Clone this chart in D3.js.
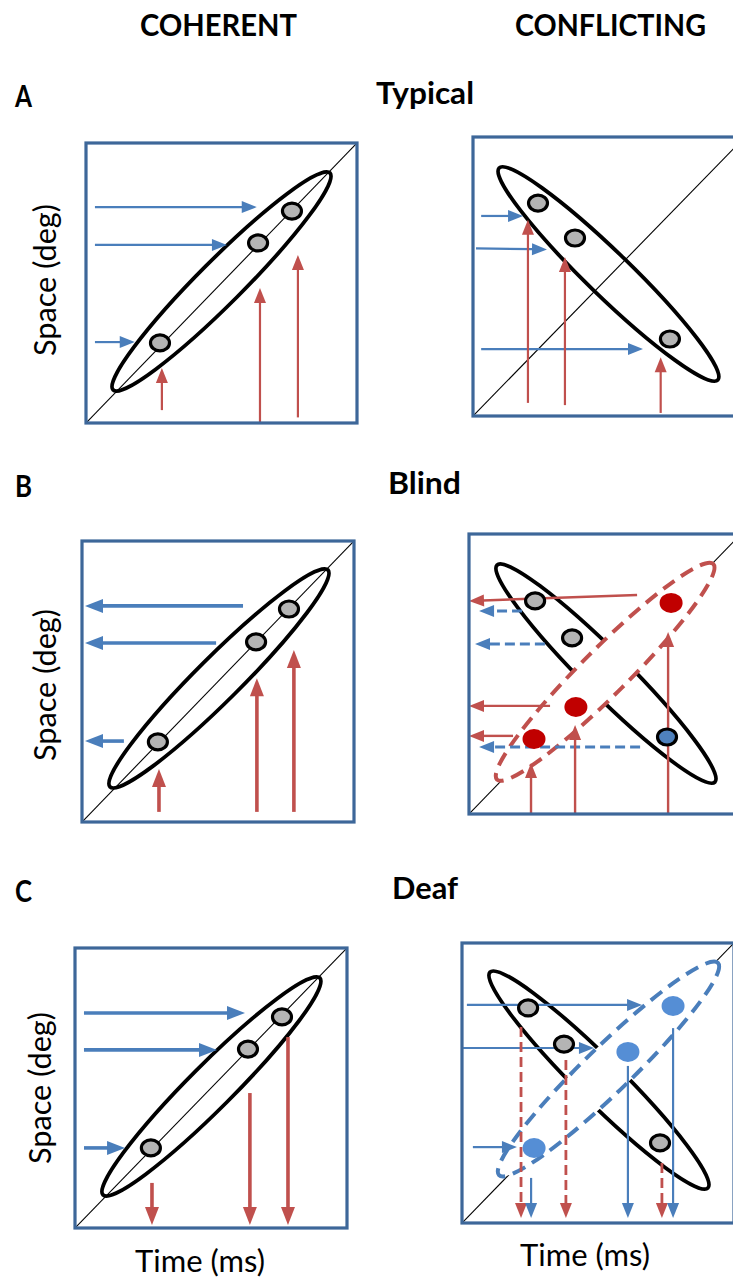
<!DOCTYPE html>
<html><head><meta charset="utf-8">
<script src="https://cdn.jsdelivr.net/npm/d3@7"></script>
<style>body{margin:0;background:#fff}svg{display:block}</style>
</head><body><svg id="c" width="733" height="1280"></svg>
<script>
// ---------- DATA (unit coordinates: t = time 0..1, s = space 0..1) ----------
const panelIds = ["A1", "A2", "B1", "B2", "C1", "C2"];

const columnTitles = ["COHERENT", "CONFLICTING"];
const rowLetters = ["A", "B", "C"];
const rowNames = ["Typical", "Blind", "Deaf"];
const axisLabels = { y: "Space (deg)", x: "Time (ms)" };

// ellipses: two ends of the major axis + half-width (unit coords)
const ellipses = [
  { p: "A1", kind: "black", t0: 0.100, s0: 0.118, t1: 0.900, s1: 0.893, w: 0.081 },
  { p: "A2", kind: "black", t0: 0.096, s0: 0.889, t1: 0.900, s1: 0.129, w: 0.081 },
  { p: "B1", kind: "black", t0: 0.103, s0: 0.125, t1: 0.904, s1: 0.897, w: 0.081 },
  { p: "B2", kind: "black", t0: 0.103, s0: 0.889, t1: 0.904, s1: 0.114, w: 0.081 },
  { p: "B2", kind: "red",   t0: 0.103, s0: 0.123, t1: 0.898, s1: 0.893, w: 0.085 },
  { p: "C1", kind: "black", t0: 0.103, s0: 0.118, t1: 0.900, s1: 0.893, w: 0.081 },
  { p: "C2", kind: "black", t0: 0.103, s0: 0.896, t1: 0.904, s1: 0.125, w: 0.081 },
  { p: "C2", kind: "blue",  t0: 0.136, s0: 0.171, t1: 0.941, s1: 0.929, w: 0.085 }
];

// dots
const dots = [
  { p: "A1", kind: "gray", t: 0.273, s: 0.286 }, { p: "A1", kind: "gray", t: 0.635, s: 0.643 }, { p: "A1", kind: "gray", t: 0.760, s: 0.757 },
  { p: "A2", kind: "gray", t: 0.239, s: 0.763 }, { p: "A2", kind: "gray", t: 0.375, s: 0.638 }, { p: "A2", kind: "gray", t: 0.724, s: 0.276 },
  { p: "B1", kind: "gray", t: 0.279, s: 0.285 }, { p: "B1", kind: "gray", t: 0.640, s: 0.641 }, { p: "B1", kind: "gray", t: 0.761, s: 0.758 },
  { p: "B2", kind: "gray", t: 0.243, s: 0.761 }, { p: "B2", kind: "gray", t: 0.379, s: 0.629 }, { p: "B2", kind: "blueRing", t: 0.728, s: 0.275 },
  { p: "B2", kind: "red", t: 0.743, s: 0.754 }, { p: "B2", kind: "red", t: 0.393, s: 0.382 }, { p: "B2", kind: "red", t: 0.239, s: 0.268 },
  { p: "C1", kind: "gray", t: 0.279, s: 0.286 }, { p: "C1", kind: "gray", t: 0.636, s: 0.639 }, { p: "C1", kind: "gray", t: 0.761, s: 0.754 },
  { p: "C2", kind: "gray", t: 0.243, s: 0.768 }, { p: "C2", kind: "gray", t: 0.375, s: 0.639 }, { p: "C2", kind: "gray", t: 0.728, s: 0.286 },
  { p: "C2", kind: "blue", t: 0.776, s: 0.775 }, { p: "C2", kind: "blue", t: 0.610, s: 0.611 }, { p: "C2", kind: "blue", t: 0.265, s: 0.268 }
];

// arrows: from (t0,s0) to tip (t1,s1); kind = colour series, dashed = weak signal
const arrows = [
  // A1
  { p: "A1", kind: "blue", dashed: false, t0: 0.033, s0: 0.771, t1: 0.630, s1: 0.771 },
  { p: "A1", kind: "blue", dashed: false, t0: 0.033, s0: 0.636, t1: 0.520, s1: 0.636 },
  { p: "A1", kind: "blue", dashed: false, t0: 0.033, s0: 0.289, t1: 0.180, s1: 0.289 },
  { p: "A1", kind: "red",  dashed: false, t0: 0.280, s0: 0.046, t1: 0.280, s1: 0.196 },
  { p: "A1", kind: "red",  dashed: false, t0: 0.642, s0: 0.000, t1: 0.642, s1: 0.482 },
  { p: "A1", kind: "red",  dashed: false, t0: 0.782, s0: 0.020, t1: 0.782, s1: 0.600 },
  // A2
  { p: "A2", kind: "blue", dashed: false, t0: 0.030, s0: 0.717, t1: 0.184, s1: 0.717 },
  { p: "A2", kind: "blue", dashed: false, t0: 0.011, s0: 0.601, t1: 0.272, s1: 0.597 },
  { p: "A2", kind: "blue", dashed: false, t0: 0.030, s0: 0.240, t1: 0.625, s1: 0.240 },
  { p: "A2", kind: "red",  dashed: false, t0: 0.202, s0: 0.047, t1: 0.202, s1: 0.703 },
  { p: "A2", kind: "red",  dashed: false, t0: 0.338, s0: 0.039, t1: 0.338, s1: 0.570 },
  { p: "A2", kind: "red",  dashed: false, t0: 0.690, s0: 0.011, t1: 0.690, s1: 0.211 },
  // B1
  { p: "B1", kind: "blue", dashed: false, t0: 0.592, s0: 0.769, t1: 0.011, s1: 0.769 },
  { p: "B1", kind: "blue", dashed: false, t0: 0.493, s0: 0.637, t1: 0.011, s1: 0.637 },
  { p: "B1", kind: "blue", dashed: false, t0: 0.154, s0: 0.288, t1: 0.011, s1: 0.288 },
  { p: "B1", kind: "red",  dashed: false, t0: 0.283, s0: 0.036, t1: 0.283, s1: 0.189 },
  { p: "B1", kind: "red",  dashed: false, t0: 0.643, s0: 0.036, t1: 0.643, s1: 0.512 },
  { p: "B1", kind: "red",  dashed: false, t0: 0.779, s0: 0.036, t1: 0.779, s1: 0.612 },
  // B2
  { p: "B2", kind: "red",  dashed: false, t0: 0.618, s0: 0.782, t1: 0.000, s1: 0.761 },
  { p: "B2", kind: "red",  dashed: false, t0: 0.298, s0: 0.386, t1: 0.000, s1: 0.386 },
  { p: "B2", kind: "red",  dashed: false, t0: 0.162, s0: 0.279, t1: 0.000, s1: 0.279 },
  { p: "B2", kind: "blue", dashed: true,  t0: 0.195, s0: 0.725, t1: 0.037, s1: 0.725 },
  { p: "B2", kind: "blue", dashed: true,  t0: 0.279, s0: 0.607, t1: 0.022, s1: 0.607 },
  { p: "B2", kind: "blue", dashed: true,  t0: 0.629, s0: 0.239, t1: 0.037, s1: 0.239 },
  { p: "B2", kind: "red",  dashed: false, t0: 0.228, s0: 0.000, t1: 0.228, s1: 0.182 },
  { p: "B2", kind: "red",  dashed: false, t0: 0.390, s0: 0.000, t1: 0.390, s1: 0.318 },
  { p: "B2", kind: "red",  dashed: false, t0: 0.732, s0: 0.000, t1: 0.732, s1: 0.650 },
  // C1
  { p: "C1", kind: "blue", dashed: false, t0: 0.033, s0: 0.768, t1: 0.625, s1: 0.768 },
  { p: "C1", kind: "blue", dashed: false, t0: 0.033, s0: 0.636, t1: 0.522, s1: 0.636 },
  { p: "C1", kind: "blue", dashed: false, t0: 0.033, s0: 0.286, t1: 0.184, s1: 0.286 },
  { p: "C1", kind: "red",  dashed: false, t0: 0.283, s0: 0.161, t1: 0.283, s1: 0.011 },
  { p: "C1", kind: "red",  dashed: false, t0: 0.643, s0: 0.482, t1: 0.643, s1: 0.011 },
  { p: "C1", kind: "red",  dashed: false, t0: 0.783, s0: 0.682, t1: 0.783, s1: 0.011 },
  // C2
  { p: "C2", kind: "blue", dashed: false, t0: 0.018, s0: 0.779, t1: 0.662, s1: 0.779 },
  { p: "C2", kind: "blue", dashed: false, t0: 0.004, s0: 0.625, t1: 0.485, s1: 0.625 },
  { p: "C2", kind: "blue", dashed: false, t0: 0.040, s0: 0.271, t1: 0.202, s1: 0.271 },
  { p: "C2", kind: "red",  dashed: true,  t0: 0.217, s0: 0.700, t1: 0.217, s1: 0.018 },
  { p: "C2", kind: "red",  dashed: true,  t0: 0.382, s0: 0.582, t1: 0.382, s1: 0.018 },
  { p: "C2", kind: "red",  dashed: true,  t0: 0.735, s0: 0.214, t1: 0.735, s1: 0.018 },
  { p: "C2", kind: "blue", dashed: false, t0: 0.254, s0: 0.161, t1: 0.254, s1: 0.018 },
  { p: "C2", kind: "blue", dashed: false, t0: 0.610, s0: 0.561, t1: 0.610, s1: 0.018 },
  { p: "C2", kind: "blue", dashed: false, t0: 0.776, s0: 0.696, t1: 0.776, s1: 0.018 }
];

// ---------- LAYOUT & STYLE ----------
const layout = {
  A1: { x: 86, y: 143, w: 271, h: 280 }, A2: { x: 473, y: 137, w: 272, h: 279 },
  B1: { x: 82, y: 541, w: 272, h: 281 }, B2: { x: 469, y: 534, w: 272, h: 280 },
  C1: { x: 75, y: 948, w: 272, h: 280 }, C2: { x: 462, y: 943, w: 272, h: 280 }
};
const weight = { A1: 2.2, A2: 2.2, B1: 3.6, B2: 2.4, C1: 3.6, C2: 2.2 };
const colorOf = d3.scaleOrdinal().domain(["blue", "red", "black"]).range(["#4a7ebb", "#c0504d", "#000"]);
const FONT = "Lato, 'Open Sans', sans-serif";

const svg = d3.select("#c");

panelIds.forEach(id => {
  const L = layout[id];
  svg.append("clipPath").attr("id", "clip" + id).append("rect")
    .attr("x", L.x).attr("y", L.y).attr("width", L.w).attr("height", L.h);
});

panelIds.forEach(id => {
  const L = layout[id];
  const x = d3.scaleLinear().domain([0, 1]).range([L.x, L.x + L.w]);
  const y = d3.scaleLinear().domain([0, 1]).range([L.y + L.h, L.y]);
  const g = svg.append("g").attr("class", "panel " + id);
  const inner = g.append("g").attr("clip-path", `url(#clip${id})`);

  inner.append("line")
    .attr("x1", x(0)).attr("y1", y(0)).attr("x2", x(1)).attr("y2", y(1))
    .attr("stroke", "#000").attr("stroke-width", 1.1);

  const ells = ellipses.filter(e => e.p === id).sort((a, b) => (a.kind === "black" ? -1 : 1));
  ells.forEach(e => {
    const x0 = x(e.t0), y0 = y(e.s0), x1 = x(e.t1), y1 = y(e.s1);
    const cx = (x0 + x1) / 2, cy = (y0 + y1) / 2;
    const rx = Math.hypot(x1 - x0, y1 - y0) / 2;
    const ry = x(e.w) - x(0);
    const ang = Math.atan2(y1 - y0, x1 - x0) * 180 / Math.PI;
    const dashed = e.kind !== "black";
    inner.append("ellipse")
      .attr("transform", `translate(${cx},${cy}) rotate(${ang})`)
      .attr("rx", rx).attr("ry", ry)
      .attr("fill", dashed ? "#fff" : "none")
      .attr("stroke", colorOf(e.kind))
      .attr("stroke-width", dashed ? 4 : 3.8)
      .attr("stroke-dasharray", dashed ? "14,8" : null);
  });

  const lw = weight[id];
  arrows.filter(a => a.p === id).forEach(a => {
    const x0 = x(a.t0), y0 = y(a.s0), x1 = x(a.t1), y1 = y(a.s1);
    const len = Math.hypot(x1 - x0, y1 - y0);
    const ux = (x1 - x0) / len, uy = (y1 - y0) / len;
    const HL = lw > 3 ? 18 : 15, HW = lw > 3 ? 7 : 6;
    const bx = x1 - ux * HL, by = y1 - uy * HL;
    const c = colorOf(a.kind);
    inner.append("line")
      .attr("x1", x0).attr("y1", y0).attr("x2", bx + ux * 1).attr("y2", by + uy * 1)
      .attr("stroke", c).attr("stroke-width", a.dashed ? lw + 0.6 : lw)
      .attr("stroke-dasharray", a.dashed ? "10,5" : null);
    inner.append("path")
      .attr("d", d3.line()([[x1, y1], [bx - uy * HW, by + ux * HW], [bx + uy * HW, by - ux * HW]]) + "Z")
      .attr("fill", c);
  });

  const dotStyle = {
    gray: { fill: "#b4b4b4", stroke: "#000", rx: 9.5, ry: 8 },
    blueRing: { fill: "#4f81bd", stroke: "#000", rx: 9.5, ry: 8 },
    red: { fill: "#c00000", stroke: "none", rx: 11.5, ry: 10 },
    blue: { fill: "#558ed5", stroke: "none", rx: 11.5, ry: 10 }
  };
  inner.selectAll("ellipse.dot").data(dots.filter(d => d.p === id)).enter()
    .append("ellipse").attr("class", "dot")
    .attr("cx", d => x(d.t)).attr("cy", d => y(d.s))
    .attr("rx", d => dotStyle[d.kind].rx).attr("ry", d => dotStyle[d.kind].ry)
    .attr("fill", d => dotStyle[d.kind].fill)
    .attr("stroke", d => dotStyle[d.kind].stroke).attr("stroke-width", 3.2);

  g.append("rect").attr("x", L.x).attr("y", L.y).attr("width", L.w).attr("height", L.h)
    .attr("fill", "none").attr("stroke", "#3d6799").attr("stroke-width", 3.2);
});

// ---------- TEXT ----------
function label(txt, x, yb, size, weightF, len, anchor) {
  const t = svg.append("text").attr("x", x).attr("y", yb)
    .attr("font-family", FONT).attr("font-size", size).attr("font-weight", weightF)
    .attr("fill", "#000").attr("text-anchor", anchor || "start").text(txt);
  if (len) t.attr("textLength", len).attr("lengthAdjust", "spacingAndGlyphs");
  return t;
}
label(columnTitles[0], 140, 36, 30, 700, 157);
label(columnTitles[1], 515, 36, 30, 700, 191);
const letterY = [107, 497, 902];
const nameX = [376, 388, 392];
const nameLen = [98, 73, 66];
rowLetters.forEach((L, i) => label(L, 15, letterY[i], 30, 700, 17));
rowNames.forEach((n, i) => label(n, nameX[i], letterY[i] - 3, 30, 700, nameLen[i]));

const spaceY = [280, 685, 1088];
const spaceX = [56, 56, 51];
spaceY.forEach((cy, i) => {
  svg.append("text").attr("transform", `translate(${spaceX[i]},${cy}) rotate(-90)`)
    .attr("font-family", FONT).attr("font-size", 30).attr("text-anchor", "middle")
    .attr("textLength", 152).attr("lengthAdjust", "spacingAndGlyphs")
    .text(axisLabels.y);
});
label(axisLabels.x, 200, 1272, 30, 400, 130, "middle");
label(axisLabels.x, 585, 1266, 30, 400, 130, "middle");
</script></body></html>
